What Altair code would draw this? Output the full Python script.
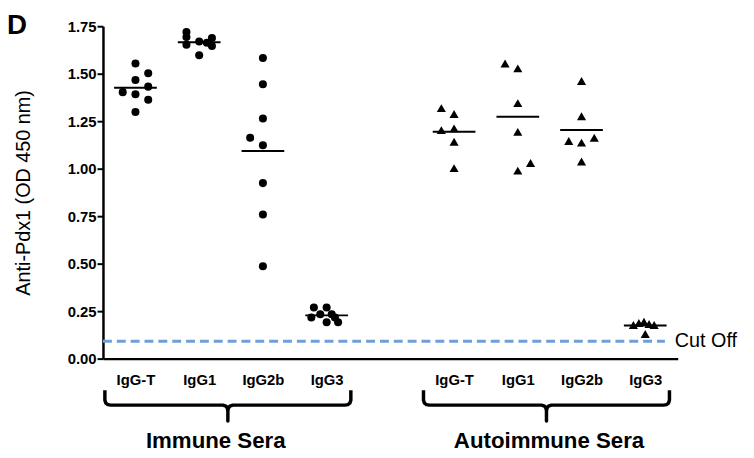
import altair as alt
import pandas as pd

# ---------------- data ----------------
categories = ["IgG-T", "IgG1", "IgG2b", "IgG3"]
sera_names = ["Immune Sera", "Autoimmune Sera"]
immune_positions = [0, 1, 2, 3]
auto_positions = [5, 6, 7, 8]

# Immune sera (circles): OD values and jitter column of each point
imm_IgGT = [1.554, 1.502, 1.467, 1.432, 1.403, 1.392, 1.363, 1.298]
imm_IgGT_col = [0, 1, 0, 1, -1, 0, 1, 0]
imm_IgG1 = [1.719, 1.693, 1.653, 1.670, 1.597, 1.663, 1.688, 1.646]
imm_IgG1_col = [-1, -1, -1, 0, 0, 0.6, 1, 1]
imm_IgG2b = [1.583, 1.444, 1.264, 1.163, 1.123, 0.924, 0.759, 0.486]
imm_IgG2b_col = [0, 0, 0, -1, 0, 0, 0, 0]
imm_IgG3 = [0.269, 0.269, 0.217, 0.234, 0.234, 0.191, 0.191, 0.217]
imm_IgG3_col = [-1, 0, -1.2, -0.5, 0.4, 0, 0.9, 0.65]

# Autoimmune sera (triangles)
aut_IgGT = [1.319, 1.288, 1.203, 1.212, 1.142, 1.003]
aut_IgGT_col = [-1, 0, -1, 0, 0, 0]
aut_IgG1 = [1.554, 1.528, 1.345, 1.194, 0.990, 1.030]
aut_IgG1_col = [-1, 0, 0, 0, 0, 1]
aut_IgG2b = [1.462, 1.276, 1.146, 1.137, 1.163, 1.038]
aut_IgG2b_col = [0, 0, -1, 0, 1, 0]
aut_IgG3 = [0.177, 0.1875, 0.194, 0.182, 0.177, 0.130]
aut_IgG3_col = [-0.93, -0.5, -0.1, 0.3, 0.7, 0]

cutoff_value = 0.092
y_ticks = [0, 0.25, 0.5, 0.75, 1.0, 1.25, 1.5, 1.75]
group_label_pos = [1.26, 6.49]

# ---------------- build tables ----------------
COL_STEP = 0.2
rows = []
imm_sets = [(imm_IgGT, imm_IgGT_col), (imm_IgG1, imm_IgG1_col),
            (imm_IgG2b, imm_IgG2b_col), (imm_IgG3, imm_IgG3_col)]
aut_sets = [(aut_IgGT, aut_IgGT_col), (aut_IgG1, aut_IgG1_col),
            (aut_IgG2b, aut_IgG2b_col), (aut_IgG3, aut_IgG3_col)]
for sera, positions, sets in [(sera_names[0], immune_positions, imm_sets),
                              (sera_names[1], auto_positions, aut_sets)]:
    for cat, pos, (vals, cols) in zip(categories, positions, sets):
        for v, c in zip(vals, cols):
            rows.append({"sera": sera, "cat": cat, "pos": pos,
                         "value": v, "x": pos + c * COL_STEP})
df = pd.DataFrame(rows)

# brackets (decoration under the category labels)
PXX = 64.4   # px per x unit
PXY = 192.0  # px per y unit
def ypx(p):
    return (360 - p) / PXY

brows = []
for sera, positions in [(sera_names[0], immune_positions), (sera_names[1], auto_positions)]:
    L = positions[0] - 0.48
    R = positions[-1] + 0.38
    C = (L + R) / 2
    shape = [(L, 0, 392), (L, 0, 402), (L, 1, 405), (L, 3, 406.5), (L, 6, 407),
             (C, -5, 407), (C, -2, 408), (C, -0.5, 410), (C, 0, 413), (C, 0, 423),
             (C, 0, 413), (C, 0.5, 410), (C, 2, 408), (C, 5, 407),
             (R, -6, 407), (R, -3, 406.5), (R, -1, 405), (R, 0, 402), (R, 0, 392)]
    for i, (base, dx, py) in enumerate(shape):
        brows.append({"sera": sera, "i": i, "bx": base + dx / PXX, "by": ypx(py)})
bdf = pd.DataFrame(brows)

gdf = pd.DataFrame({"label": sera_names, "lx": group_label_pos})
cdf = pd.DataFrame({"cutoff": [cutoff_value], "label": ["Cut Off"]})
ddf = pd.DataFrame({"t": ["D"]})

label_array = []
for p in range(9):
    if p in immune_positions:
        label_array.append(categories[immune_positions.index(p)])
    elif p in auto_positions:
        label_array.append(categories[auto_positions.index(p)])
    else:
        label_array.append("")
label_expr = "[" + ",".join("'%s'" % s for s in label_array) + "][datum.value]"

FONT = "Liberation Sans"
xscale = alt.Scale(domain=[-0.51, 8.51], nice=False, zero=False)
yscale = alt.Scale(domain=[0, 1.75], nice=False, zero=False)

xaxis = alt.Axis(
    values=immune_positions + auto_positions, labelExpr=label_expr,
    ticks=False, grid=False, domainColor="black", domainWidth=2.5,
    labelFontSize=15, labelFontWeight="bold", labelColor="black",
    labelPadding=14, labelFont=FONT, title=None)
yaxis = alt.Axis(
    values=y_ticks, format=".2f", grid=False, domainColor="black",
    domainWidth=2.5, tickColor="black", tickWidth=2, tickSize=6,
    labelFontSize=15, labelFontWeight="bold", labelColor="black",
    labelPadding=1, labelFont=FONT,
    title="Anti-Pdx1 (OD 450 nm)", titleFontSize=20, titleFontWeight="normal",
    titleFont=FONT, titleColor="black", titleX=-80, titleY=168,
    titleAngle=270, titleBaseline="middle", titleAlign="center")

def X(field):
    return alt.X(field, scale=xscale, axis=xaxis)

def Y(field):
    return alt.Y(field, scale=yscale, axis=yaxis)

base = alt.Chart(df)

circles = base.transform_filter(alt.datum.sera == sera_names[0]).mark_point(
    shape="circle", filled=True, size=66, color="black", opacity=1
).encode(x=X("x:Q"), y=Y("value:Q"))

triangles = base.transform_filter(alt.datum.sera == sera_names[1]).mark_point(
    shape="triangle-up", filled=True, size=85, color="black", opacity=1
).encode(x=X("x:Q"), y=Y("value:Q"))

means = base.transform_aggregate(
    mean="mean(value)", groupby=["pos"]
).transform_calculate(
    x1="datum.pos - 0.335", x2="datum.pos + 0.335"
).mark_rule(color="black", strokeWidth=2).encode(
    x=X("x1:Q"), x2="x2:Q", y=Y("mean:Q"),
)

cut_line = alt.Chart(cdf).mark_rule(
    color="#6f9fd8", strokeWidth=3, strokeDash=[9, 5]
).encode(
    x=alt.value(0), x2=alt.value(568), y=Y("cutoff:Q"),
)

cut_text = alt.Chart(cdf).mark_text(
    align="left", baseline="middle", fontSize=20, font=FONT, color="black"
).encode(
    x=alt.value(578), y=Y("cutoff:Q"), text="label:N",
)

brackets = alt.Chart(bdf).mark_line(
    color="black", strokeWidth=3.5, strokeJoin="round", strokeCap="butt"
).encode(
    x=X("bx:Q"), y=Y("by:Q"), detail="sera:N", order="i:Q",
)

group_text = alt.Chart(gdf).mark_text(
    align="center", baseline="alphabetic", fontSize=22.5, fontWeight="bold",
    font=FONT, color="black"
).encode(
    x=X("lx:Q"), y=alt.value(426), text="label:N",
)

panel_letter = alt.Chart(ddf).mark_text(
    align="left", baseline="alphabetic", fontSize=28, fontWeight="bold",
    font=FONT, color="black"
).encode(
    x=alt.value(-97), y=alt.value(8), text="t:N",
)

chart = alt.layer(
    cut_line, means, circles, triangles, cut_text, brackets, group_text, panel_letter
).properties(
    width=581, height=336,
    autosize=alt.AutoSizeParams(type="none"),
    padding={"left": 96, "top": 16, "right": 69, "bottom": 96},
    background="white",
).configure_view(stroke=None)

chart.save("out.html", embed_options={"renderer": "svg", "actions": False})
